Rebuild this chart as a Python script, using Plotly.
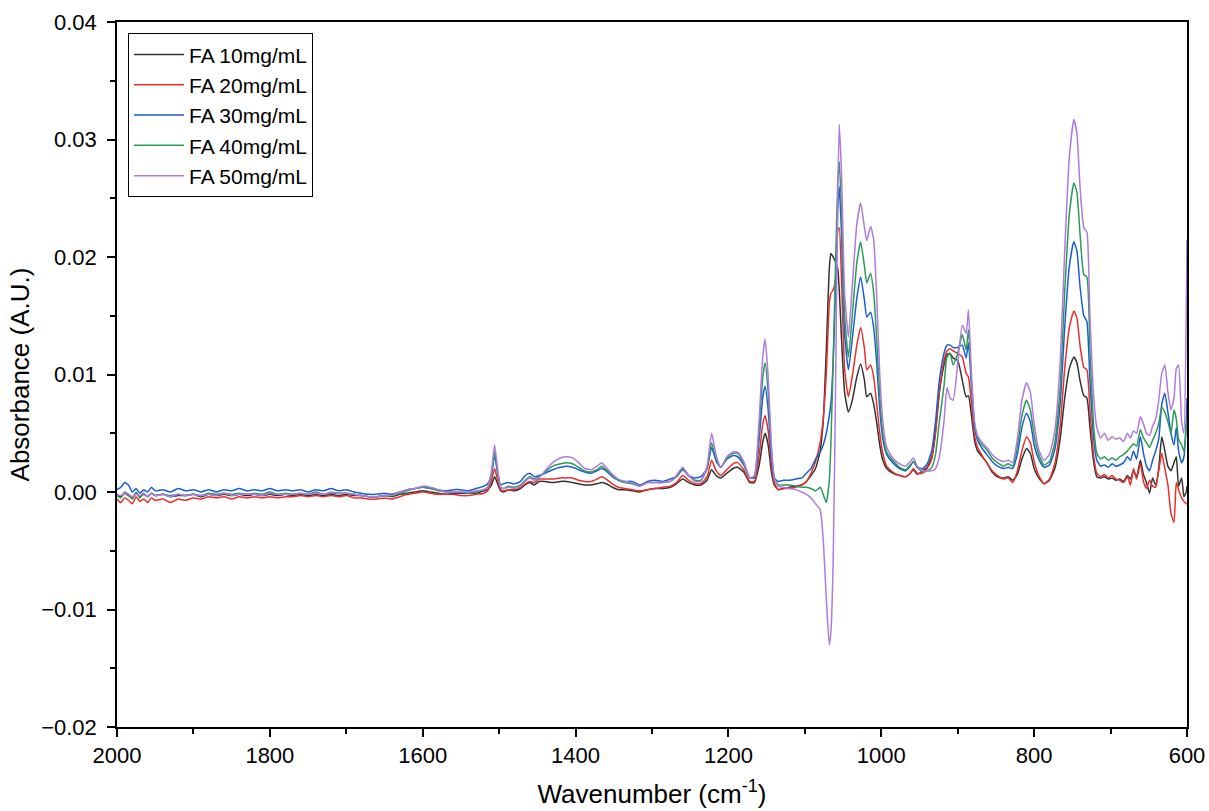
import plotly.graph_objects as go

# Wavenumber (cm^-1)
wavenumber = [2000, 1995, 1990, 1985, 1980, 1975, 1970, 1965, 1960, 1955, 1950, 1940, 1930, 1920, 1910, 1900,
              1890, 1880, 1870, 1860, 1850, 1840, 1830, 1820, 1810, 1800, 1790, 1780, 1770, 1760, 1750, 1740,
              1730, 1720, 1710, 1700, 1690, 1680, 1670, 1660, 1650, 1640, 1630, 1620, 1610, 1600, 1590, 1580,
              1570, 1560, 1550, 1540, 1530, 1520, 1515, 1510, 1506, 1502, 1498, 1494, 1488, 1480, 1472, 1466,
              1460, 1454, 1448, 1440, 1430, 1420, 1412, 1404, 1396, 1388, 1380, 1372, 1366, 1360, 1352, 1344,
              1336, 1326, 1316, 1306, 1296, 1286, 1276, 1268, 1260, 1252, 1244, 1236, 1228, 1222, 1216, 1210,
              1202, 1194, 1188, 1180, 1172, 1166, 1160, 1155, 1152, 1148, 1144, 1140, 1135, 1128, 1120, 1112,
              1104, 1098, 1092, 1086, 1080, 1076, 1072, 1068, 1066, 1063, 1060, 1057, 1055, 1052, 1048, 1043,
              1038, 1032, 1027, 1022, 1019, 1014, 1010, 1006, 1002, 998, 993, 985, 976, 968, 962, 958,
              953, 946, 940, 934, 929, 924, 918, 914, 910, 906, 900, 894, 889, 886, 882, 878,
              874, 868, 862, 855, 848, 840, 834, 828, 822, 816, 810, 805, 800, 794, 787, 780,
              773, 766, 760, 754, 748, 744, 740, 735, 731, 727, 722, 718, 713, 708, 703, 698,
              693, 688, 683, 678, 674, 670, 666, 661, 657, 653, 649, 645, 641, 637, 633, 629,
              625, 621, 617, 614, 611, 607, 604, 601, 600]

fa10 = [-0.0002, -0.0004, -0.0001, -0.0003, -0.0005, -0.0001, -0.0004, -0.0002, -0.0004, -0.0001, -0.0003, -0.0002, -0.0004, -0.0003, -0.0003, -0.0002,
        -0.0004, -0.0002, -0.0003, -0.0002, -0.0003, -0.0002, -0.0003, -0.0002, -0.0003, -0.0002, -0.0003, -0.0002, -0.0003, -0.0002, -0.0003, -0.0002,
        -0.0003, -0.0002, -0.0003, -0.0002, -0.0003, -0.0003, -0.0004, -0.0004, -0.0003, -0.0004, -0.0002, -0.0001, 0.0000, 0.0001, 0.0000, -0.0001,
        -0.0002, -0.0001, -0.0001, -0.0001, -0.0001, 0.0001, 0.0002, 0.0006, 0.0013, 0.0007, 0.0001, 0.0000, 0.0002, 0.0001, 0.0003, 0.0006,
        0.0008, 0.0006, 0.0009, 0.0009, 0.0008, 0.0009, 0.0009, 0.0008, 0.0007, 0.0006, 0.0006, 0.0007, 0.0008, 0.0007, 0.0004, 0.0002,
        0.0002, 0.0001, 0.0000, 0.0002, 0.0003, 0.0003, 0.0004, 0.0007, 0.0011, 0.0008, 0.0006, 0.0006, 0.0010, 0.0019, 0.0014, 0.0012,
        0.0016, 0.0020, 0.0021, 0.0017, 0.0008, 0.0008, 0.0022, 0.0043, 0.0050, 0.0040, 0.0018, 0.0006, 0.0002, 0.0003, 0.0004, 0.0005,
        0.0006, 0.0009, 0.0014, 0.0020, 0.0035, 0.0060, 0.0120, 0.0190, 0.0203, 0.0200, 0.0196, 0.0190, 0.0172, 0.0130, 0.0085, 0.0068,
        0.0078, 0.0098, 0.0109, 0.0095, 0.0081, 0.0084, 0.0075, 0.0059, 0.0040, 0.0027, 0.0020, 0.0016, 0.0014, 0.0013, 0.0016, 0.0019,
        0.0015, 0.0018, 0.0021, 0.0030, 0.0052, 0.0085, 0.0108, 0.0117, 0.0118, 0.0114, 0.0112, 0.0095, 0.0081, 0.0082, 0.0065, 0.0044,
        0.0035, 0.0030, 0.0025, 0.0017, 0.0013, 0.0012, 0.0013, 0.0010, 0.0015, 0.0028, 0.0037, 0.0033, 0.0020, 0.0012, 0.0007, 0.0010,
        0.0020, 0.0045, 0.0080, 0.0105, 0.0115, 0.0110, 0.0095, 0.0082, 0.0080, 0.0055, 0.0025, 0.0013, 0.0012, 0.0013, 0.0011, 0.0012,
        0.0010, 0.0011, 0.0009, 0.0014, 0.0011, 0.0018, 0.0013, 0.0027, 0.0015, 0.0008, -0.0001, 0.0012, 0.0006, 0.0020, 0.0047, 0.0035,
        0.0022, 0.0018, 0.0025, 0.0030, 0.0005, 0.0012, -0.0004, 0.0000, 0.0005]

fa20 = [-0.0006, -0.0009, -0.0005, -0.0007, -0.0010, -0.0004, -0.0008, -0.0006, -0.0009, -0.0005, -0.0007, -0.0006, -0.0009, -0.0006, -0.0007, -0.0005,
        -0.0006, -0.0004, -0.0005, -0.0004, -0.0006, -0.0004, -0.0005, -0.0004, -0.0005, -0.0004, -0.0005, -0.0004, -0.0004, -0.0003, -0.0004, -0.0003,
        -0.0004, -0.0003, -0.0004, -0.0003, -0.0005, -0.0005, -0.0006, -0.0006, -0.0005, -0.0006, -0.0004, -0.0002, -0.0001, 0.0000, -0.0001, -0.0002,
        -0.0002, -0.0002, -0.0003, -0.0003, -0.0002, -0.0001, 0.0001, 0.0010, 0.0020, 0.0010, 0.0002, 0.0001, 0.0002, 0.0002, 0.0004, 0.0007,
        0.0009, 0.0008, 0.0011, 0.0011, 0.0011, 0.0012, 0.0012, 0.0012, 0.0010, 0.0009, 0.0009, 0.0011, 0.0013, 0.0011, 0.0007, 0.0004,
        0.0003, 0.0002, 0.0001, 0.0002, 0.0003, 0.0004, 0.0005, 0.0008, 0.0014, 0.0010, 0.0007, 0.0007, 0.0013, 0.0027, 0.0018, 0.0014,
        0.0019, 0.0024, 0.0025, 0.0019, 0.0009, 0.0009, 0.0030, 0.0058, 0.0065, 0.0052, 0.0024, 0.0008, 0.0002, 0.0003, 0.0003, 0.0004,
        0.0006, 0.0009, 0.0016, 0.0026, 0.0042, 0.0062, 0.0100, 0.0160, 0.0169, 0.0172, 0.0180, 0.0222, 0.0225, 0.0180, 0.0105, 0.0081,
        0.0098, 0.0125, 0.0140, 0.0122, 0.0104, 0.0108, 0.0098, 0.0075, 0.0050, 0.0033, 0.0022, 0.0017, 0.0014, 0.0013, 0.0016, 0.0020,
        0.0016, 0.0016, 0.0020, 0.0028, 0.0050, 0.0086, 0.0112, 0.0120, 0.0122, 0.0120, 0.0118, 0.0115, 0.0101, 0.0098, 0.0075, 0.0048,
        0.0038, 0.0031, 0.0025, 0.0018, 0.0014, 0.0011, 0.0012, 0.0008, 0.0018, 0.0035, 0.0047, 0.0042, 0.0026, 0.0014, 0.0007, 0.0011,
        0.0024, 0.0056, 0.0105, 0.0140, 0.0154, 0.0148, 0.0125, 0.0106, 0.0104, 0.0070, 0.0030, 0.0016, 0.0013, 0.0015, 0.0012, 0.0014,
        0.0011, 0.0010, 0.0008, 0.0013, 0.0006, 0.0020, 0.0011, 0.0024, 0.0009, 0.0003, 0.0010, 0.0005, 0.0004, 0.0018, 0.0033, 0.0020,
        0.0006, -0.0018, -0.0026, 0.0008, 0.0002, -0.0005, -0.0008, -0.0010, -0.0010]

fa30 = [0.0002, 0.0004, 0.0008, 0.0006, 0.0000, 0.0003, -0.0001, 0.0002, 0.0000, 0.0004, 0.0001, 0.0002, 0.0000, 0.0003, 0.0001, 0.0002,
        0.0000, 0.0002, 0.0000, 0.0002, 0.0001, 0.0003, 0.0001, 0.0002, 0.0001, 0.0003, 0.0001, 0.0002, 0.0001, 0.0002, 0.0000, 0.0002,
        0.0001, 0.0003, 0.0001, 0.0002, 0.0000, -0.0001, -0.0002, -0.0002, -0.0001, -0.0002, 0.0000, 0.0002, 0.0003, 0.0004, 0.0003, 0.0002,
        0.0001, 0.0002, 0.0002, 0.0001, 0.0003, 0.0005, 0.0007, 0.0015, 0.0031, 0.0016, 0.0006, 0.0007, 0.0008, 0.0007, 0.0009, 0.0014,
        0.0016, 0.0013, 0.0014, 0.0016, 0.0019, 0.0021, 0.0022, 0.0021, 0.0019, 0.0017, 0.0016, 0.0018, 0.0020, 0.0018, 0.0013, 0.0010,
        0.0009, 0.0009, 0.0006, 0.0009, 0.0010, 0.0009, 0.0011, 0.0013, 0.0019, 0.0014, 0.0012, 0.0013, 0.0020, 0.0038, 0.0026, 0.0021,
        0.0028, 0.0031, 0.0030, 0.0023, 0.0012, 0.0012, 0.0043, 0.0081, 0.0090, 0.0070, 0.0032, 0.0012, 0.0009, 0.0010, 0.0010, 0.0011,
        0.0012, 0.0016, 0.0020, 0.0028, 0.0034, 0.0040, 0.0050, 0.0065, 0.0075, 0.0110, 0.0170, 0.0240, 0.0260, 0.0220, 0.0135, 0.0104,
        0.0130, 0.0165, 0.0183, 0.0163, 0.0149, 0.0153, 0.0140, 0.0110, 0.0070, 0.0045, 0.0032, 0.0025, 0.0020, 0.0018, 0.0022, 0.0026,
        0.0021, 0.0020, 0.0024, 0.0035, 0.0060, 0.0095, 0.0118, 0.0125, 0.0125, 0.0123, 0.0123, 0.0125, 0.0114, 0.0127, 0.0090, 0.0055,
        0.0044, 0.0037, 0.0032, 0.0026, 0.0022, 0.0020, 0.0021, 0.0020, 0.0032, 0.0055, 0.0067, 0.0060, 0.0040, 0.0028, 0.0021, 0.0023,
        0.0036, 0.0075, 0.0140, 0.0192, 0.0213, 0.0205, 0.0175, 0.0150, 0.0145, 0.0095, 0.0045, 0.0027, 0.0022, 0.0023, 0.0021, 0.0024,
        0.0022, 0.0023, 0.0025, 0.0030, 0.0027, 0.0035, 0.0028, 0.0047, 0.0033, 0.0022, 0.0018, 0.0027, 0.0035, 0.0045, 0.0075, 0.0084,
        0.0068, 0.0050, 0.0040, 0.0055, 0.0035, 0.0025, 0.0030, 0.0060, 0.0080]

fa40 = [-0.0003, -0.0005, 0.0000, -0.0002, -0.0006, 0.0000, -0.0005, -0.0001, -0.0004, -0.0001, -0.0003, -0.0002, -0.0003, -0.0002, -0.0003, -0.0002,
        -0.0003, -0.0001, -0.0002, -0.0001, -0.0002, -0.0001, -0.0002, -0.0001, -0.0002, 0.0000, -0.0002, -0.0001, -0.0002, -0.0001, -0.0002, 0.0000,
        -0.0002, -0.0001, -0.0001, -0.0001, -0.0002, -0.0003, -0.0004, -0.0004, -0.0003, -0.0003, -0.0001, 0.0001, 0.0003, 0.0004, 0.0003, 0.0001,
        0.0000, 0.0000, 0.0000, -0.0001, 0.0000, 0.0002, 0.0004, 0.0015, 0.0034, 0.0018, 0.0004, 0.0003, 0.0005, 0.0004, 0.0006, 0.0010,
        0.0013, 0.0011, 0.0013, 0.0017, 0.0022, 0.0024, 0.0025, 0.0024, 0.0021, 0.0018, 0.0017, 0.0019, 0.0022, 0.0019, 0.0014, 0.0010,
        0.0008, 0.0007, 0.0005, 0.0008, 0.0008, 0.0008, 0.0009, 0.0013, 0.0020, 0.0014, 0.0010, 0.0010, 0.0020, 0.0042, 0.0028, 0.0021,
        0.0029, 0.0033, 0.0033, 0.0025, 0.0012, 0.0013, 0.0052, 0.0098, 0.0110, 0.0085, 0.0038, 0.0012, 0.0006, 0.0006, 0.0006, 0.0005,
        0.0004, 0.0004, 0.0003, 0.0001, 0.0004, -0.0002, -0.0009, 0.0010, 0.0040, 0.0110, 0.0190, 0.0262, 0.0281, 0.0240, 0.0150, 0.0115,
        0.0150, 0.0195, 0.0213, 0.0192, 0.0178, 0.0186, 0.0170, 0.0130, 0.0082, 0.0050, 0.0034, 0.0027, 0.0021, 0.0019, 0.0023, 0.0026,
        0.0021, 0.0017, 0.0018, 0.0021, 0.0032, 0.0060, 0.0090, 0.0115, 0.0118, 0.0108, 0.0118, 0.0134, 0.0121, 0.0138, 0.0095, 0.0058,
        0.0046, 0.0040, 0.0036, 0.0029, 0.0025, 0.0022, 0.0024, 0.0022, 0.0038, 0.0065, 0.0078, 0.0070, 0.0048, 0.0032, 0.0023, 0.0026,
        0.0042, 0.0088, 0.0170, 0.0236, 0.0263, 0.0255, 0.0220, 0.0185, 0.0183, 0.0120, 0.0055, 0.0033, 0.0028, 0.0030, 0.0027, 0.0029,
        0.0027, 0.0030, 0.0032, 0.0035, 0.0038, 0.0041, 0.0039, 0.0053, 0.0046, 0.0042, 0.0038, 0.0044, 0.0050, 0.0058, 0.0072, 0.0068,
        0.0060, 0.0050, 0.0070, 0.0062, 0.0045, 0.0040, 0.0035, 0.0055, 0.0062]

fa50 = [-0.0002, -0.0003, -0.0001, -0.0002, -0.0004, -0.0002, -0.0003, -0.0001, -0.0004, -0.0001, -0.0003, -0.0002, -0.0004, -0.0002, -0.0003, -0.0002,
        -0.0003, -0.0002, -0.0003, -0.0001, -0.0003, -0.0002, -0.0002, -0.0002, -0.0003, -0.0001, -0.0002, -0.0002, -0.0002, -0.0001, -0.0002, -0.0001,
        -0.0002, 0.0000, -0.0001, -0.0001, -0.0002, -0.0003, -0.0004, -0.0004, -0.0003, -0.0003, 0.0000, 0.0002, 0.0003, 0.0005, 0.0004, 0.0002,
        0.0000, 0.0000, 0.0000, 0.0000, 0.0001, 0.0002, 0.0004, 0.0018, 0.0040, 0.0020, 0.0004, 0.0003, 0.0004, 0.0003, 0.0005, 0.0009,
        0.0012, 0.0010, 0.0012, 0.0018, 0.0025, 0.0029, 0.0030, 0.0029, 0.0025, 0.0020, 0.0019, 0.0022, 0.0025, 0.0021, 0.0015, 0.0011,
        0.0009, 0.0008, 0.0005, 0.0008, 0.0008, 0.0008, 0.0009, 0.0014, 0.0021, 0.0014, 0.0009, 0.0009, 0.0022, 0.0050, 0.0031, 0.0021,
        0.0030, 0.0034, 0.0034, 0.0026, 0.0012, 0.0014, 0.0060, 0.0116, 0.0130, 0.0098, 0.0042, 0.0012, 0.0005, 0.0004, 0.0003, 0.0002,
        0.0000, -0.0002, -0.0005, -0.0010, -0.0015, -0.0040, -0.0090, -0.0130, -0.0120, -0.0060, 0.0080, 0.0250, 0.0313, 0.0270, 0.0170, 0.0132,
        0.0175, 0.0228, 0.0246, 0.0225, 0.0214, 0.0226, 0.0215, 0.0166, 0.0100, 0.0060, 0.0038, 0.0029, 0.0024, 0.0022, 0.0026, 0.0029,
        0.0022, 0.0018, 0.0018, 0.0018, 0.0020, 0.0030, 0.0060, 0.0089, 0.0080, 0.0078, 0.0110, 0.0142, 0.0135, 0.0155, 0.0100, 0.0060,
        0.0048, 0.0042, 0.0038, 0.0032, 0.0028, 0.0026, 0.0027, 0.0025, 0.0045, 0.0078, 0.0093, 0.0085, 0.0058, 0.0036, 0.0027, 0.0032,
        0.0052, 0.0110, 0.0205, 0.0285, 0.0317, 0.0305, 0.0260, 0.0225, 0.0221, 0.0150, 0.0080, 0.0055, 0.0046, 0.0050, 0.0044, 0.0047,
        0.0045, 0.0046, 0.0043, 0.0050, 0.0046, 0.0052, 0.0050, 0.0064, 0.0058, 0.0050, 0.0048, 0.0056, 0.0062, 0.0078, 0.0101, 0.0108,
        0.0085, 0.0070, 0.0080, 0.0105, 0.0108, 0.0060, 0.0050, 0.0150, 0.0215]

series_names = ["FA 10mg/mL", "FA 20mg/mL", "FA 30mg/mL", "FA 40mg/mL", "FA 50mg/mL"]
series_values = [fa10, fa20, fa30, fa40, fa50]
series_colors = ["#333333", "#e8302c", "#1a5fd0", "#2e9a5a", "#b07ae0"]

fig = go.Figure()
for name, vals, col in zip(series_names, series_values, series_colors):
    fig.add_trace(go.Scatter(x=wavenumber, y=vals, mode="lines", name=name,
                             line=dict(color=col, width=1.5, shape="spline", smoothing=0.5)))

font_family = "Liberation Sans, Arial, sans-serif"
axis_common = dict(showline=True, linecolor="black", linewidth=1.5, mirror=True,
                   ticks="outside", ticklen=8, tickwidth=1.5, tickcolor="black",
                   showgrid=False, zeroline=False, automargin=False,
                   ticklabeloverflow="allow",
                   tickfont=dict(family=font_family, size=22, color="black"))

fig.update_xaxes(range=[2000, 600], tickmode="linear", tick0=600, dtick=200,
                 minor=dict(ticks="outside", ticklen=5, tickwidth=1.5, tickcolor="black", dtick=100, tick0=600),
                 ticklabelstandoff=0,
                 title=dict(text="Wavenumber (cm<sup>-1</sup>)", font=dict(family=font_family, size=26, color="black"), standoff=18),
                 **axis_common)
fig.update_yaxes(range=[-0.02, 0.04], tickmode="linear", tick0=0, dtick=0.01, tickformat=".2f",
                 minor=dict(ticks="outside", ticklen=5, tickwidth=1.5, tickcolor="black", dtick=0.005, tick0=0),
                 ticklabelstandoff=6,
                 title=dict(text="Absorbance (A.U.)", font=dict(family=font_family, size=26, color="black"), standoff=4),
                 **axis_common)

fig.update_layout(
    width=1209, height=811,
    margin=dict(l=117, r=22, t=22, b=84),
    plot_bgcolor="white", paper_bgcolor="white",
    legend=dict(x=0.0103, y=0.984, xanchor="left", yanchor="top",
                bordercolor="black", borderwidth=1, bgcolor="white",
                font=dict(family=font_family, size=21, color="black"),
                itemwidth=50, tracegroupgap=0),
)

fig.write_html("out.html")
